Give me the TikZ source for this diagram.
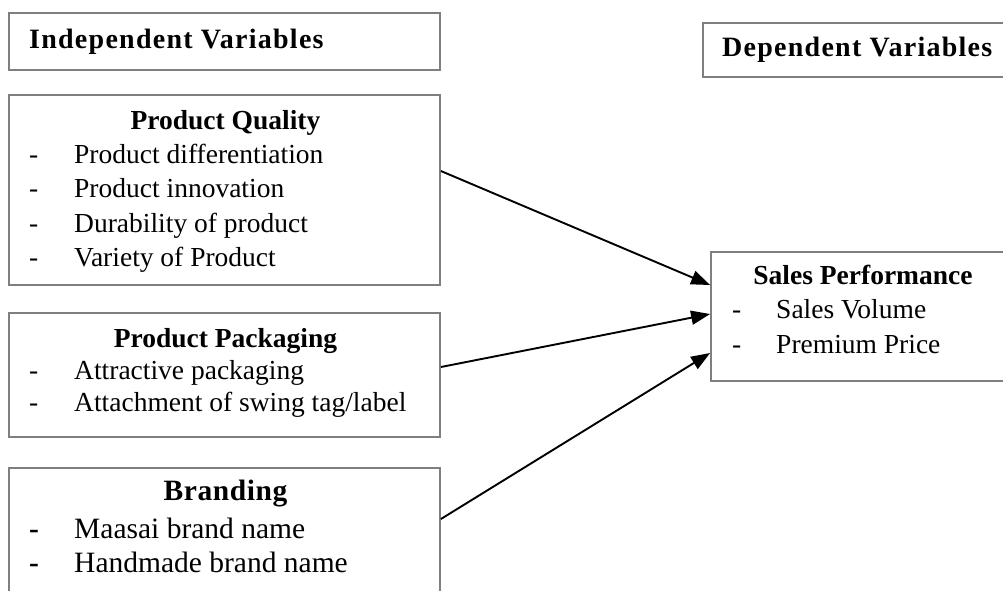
\documentclass[tikz,border=0pt]{standalone}
\usepackage{fontspec}
\setmainfont{Liberation Serif}
\usetikzlibrary{arrows.meta}
\definecolor{boxgray}{HTML}{7F7F7F}
\tikzset{
  box/.style={draw=boxgray, line width=1.8pt, rectangle, inner sep=0pt},
  txt/.style={anchor=base west, inner sep=0pt, font=\fontsize{27.5}{33}\selectfont},
  bigtxt/.style={anchor=base west, inner sep=0pt, font=\fontsize{29.5}{35}\selectfont},
  ttl/.style={anchor=base, inner sep=0pt, font=\fontsize{27.5}{33}\selectfont\bfseries},
  hdr/.style={anchor=base west, inner sep=0pt, font=\fontsize{28}{33}\selectfont\bfseries\addfontfeature{LetterSpace=4.5}},
  arr/.style={-{Triangle[length=19pt,width=14pt]}, line width=1.9pt, black}
}
\begin{document}
\begin{tikzpicture}[x=1pt,y=-1pt]
\clip (0,0) rectangle (1003,590);
\fill[white] (0,0) rectangle (1003,590);
% boxes
\node[box, minimum width=431pt, minimum height=57pt] (iv) at (224.5,41.5) {};
\node[box, minimum width=320pt, minimum height=54pt] (dv) at (863,50) {};
\node[box, minimum width=431pt, minimum height=190pt] (pq) at (224.5,190) {};
\node[box, minimum width=431pt, minimum height=124pt] (pp) at (224.5,375) {};
\node[box, minimum width=431pt, minimum height=150pt] (br) at (224.5,543) {};
\node[box, minimum width=330pt, minimum height=129pt] (sp) at (876,316.5) {};
% headers
\node[hdr] (ivt) at (29,48) {Independent Variables};
\node[hdr] (dvt) at (722,56) {Dependent Variables};
% product quality
\node[ttl] (pqt) at (225.5,129) {Product Quality};
\node[txt] (pqd1) at (29,163) {-};
\node[txt] (pq1) at (74,163) {Product differentiation};
\node[txt] (pqd2) at (29,197) {-};
\node[txt] (pq2) at (74,197) {Product innovation};
\node[txt] (pqd3) at (29,232) {-};
\node[txt] (pq3) at (74,232) {Durability of product};
\node[txt] (pqd4) at (29,266) {-};
\node[txt] (pq4) at (74,266) {Variety of Product};
% product packaging
\node[ttl] (ppt) at (225.5,347) {Product Packaging};
\node[txt] (ppd1) at (29,379) {-};
\node[txt] (pp1) at (74,379) {Attractive packaging};
\node[txt] (ppd2) at (29,411) {-};
\node[txt] (pp2) at (74,411) {Attachment of swing tag/label};
% branding
\node[ttl, font=\fontsize{29.5}{35}\selectfont\bfseries\addfontfeature{LetterSpace=2}] (brt) at (225.5,500) {Branding};
\node[bigtxt, font=\fontsize{29.5}{35}\selectfont\bfseries] (brd1) at (29,538) {-};
\node[bigtxt] (br1) at (74,538) {Maasai brand name};
\node[bigtxt, font=\fontsize{29.5}{35}\selectfont\bfseries] (brd2) at (29,572) {-};
\node[bigtxt] (br2) at (74,572) {Handmade brand name};
% sales performance
\node[ttl] (spt) at (863,284) {Sales Performance};
\node[txt] (spd1) at (732,318) {-};
\node[txt] (sp1) at (776,318) {Sales Volume};
\node[txt] (spd2) at (732,353) {-};
\node[txt] (sp2) at (776,353) {Premium Price};
% arrows
\draw[arr] ([yshift=19pt]pq.east) -- ([yshift=31.5pt]sp.west);
\draw[arr] ([yshift=8pt]pp.east) -- ([yshift=2.5pt]sp.west);
\draw[arr] ([yshift=24pt]br.east) -- ([yshift=-36.5pt]sp.west);
\end{tikzpicture}
\end{document}
